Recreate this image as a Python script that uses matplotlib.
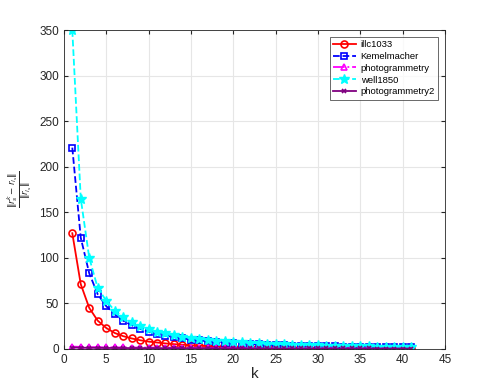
import numpy as np
import matplotlib.pyplot as plt

plt.rcParams['font.family'] = ['Liberation Sans', 'DejaVu Sans']

k = np.arange(1, 42)
illc1033 = [127, 71, 45, 31, 23, 17.5, 14, 11.5, 9.5, 8, 7, 6, 5.2, 4.6, 4, 3.6, 3.2, 2.9, 2.6, 2.4,
            2.2, 2, 1.8, 1.7, 1.6, 1.5, 1.4, 1.3, 1.2, 1.1, 1.05, 1, 0.95, 0.9, 0.85, 0.8, 0.75, 0.7,
            0.68, 0.65, 0.6]
kemelmacher = [221, 122, 83, 60, 47, 38, 31, 26, 22, 19, 16.5, 14.5, 13, 11.5, 10.3, 9.3, 8.4, 7.6,
               7, 6.4, 5.9, 5.4, 5, 4.6, 4.3, 4, 3.7, 3.5, 3.3, 3.1, 2.9, 2.7, 2.6, 2.4, 2.3, 2.2,
               2.1, 2, 1.9, 1.8, 1.7]
photogrammetry = [2.5, 2.2, 2.0, 1.9, 1.8, 1.7, 1.6, 1.5, 1.5, 1.4, 1.4, 1.3, 1.3, 1.2, 1.2, 1.2,
                  1.1, 1.1, 1.1, 1.0, 1.0, 1.0, 1.0, 0.9, 0.9, 0.9, 0.9, 0.9, 0.8, 0.8, 0.8, 0.8,
                  0.8, 0.8, 0.7, 0.7, 0.7, 0.7, 0.7, 0.7, 0.7]
well1850 = [350, 165, 100, 67, 53, 42, 35, 29, 25, 22, 19, 17, 15, 13.5, 12, 11, 10, 9.2, 8.5, 7.8,
            7.2, 6.7, 6.2, 5.8, 5.4, 5, 4.7, 4.4, 4.1, 3.9, 3.7, 3.5, 3.3, 3.1, 2.9, 2.8, 2.6, 2.5,
            2.4, 2.3, 2.2]
photogrammetry2 = [1.5, 1.3, 1.2, 1.1, 1.0, 1.0, 0.9, 0.9, 0.9, 0.8, 0.8, 0.8, 0.8, 0.7, 0.7, 0.7,
                   0.7, 0.7, 0.6, 0.6, 0.6, 0.6, 0.6, 0.6, 0.6, 0.5, 0.5, 0.5, 0.5, 0.5, 0.5, 0.5,
                   0.5, 0.5, 0.5, 0.5, 0.4, 0.4, 0.4, 0.4, 0.4]

fig = plt.figure(figsize=(4.91, 3.92), dpi=100)
ax = fig.add_axes([0.130, 0.110, 0.776, 0.813])

ax.plot(k, illc1033, '-o', color='red', lw=1.3, ms=5, mfc='none', mew=1.2, label='illc1033')
ax.plot(k, kemelmacher, '--s', color='blue', lw=1.3, ms=4, mfc='none', mew=1.2, label='Kemelmacher')
ax.plot(k, photogrammetry, '-.^', color='magenta', lw=1.3, ms=5, mfc='none', mew=1.2, label='photogrammetry')
ax.plot(k, well1850, '--*', color='cyan', lw=1.3, ms=7, mew=1.0, label='well1850')
ax.plot(k, photogrammetry2, '-x', color=(0.5, 0, 0.5), lw=1.3, ms=3.5, mew=1.2, label='photogrammetry2')

ax.set_xlim(0, 45)
ax.set_ylim(0, 350)
ax.set_xticks(np.arange(0, 46, 5))
ax.set_yticks(np.arange(0, 351, 50))
ax.grid(True, color='#e6e6e6', lw=0.8)
ax.set_axisbelow(True)
ax.tick_params(direction='in', top=True, right=True, labelsize=8.5, colors='#262626', length=3)
for s in ax.spines.values():
    s.set_color('#262626')
    s.set_linewidth(0.6)

ax.set_xlabel('k', fontsize=11, color='#262626', labelpad=1)
ax.set_ylabel(r'$\frac{\|r_s^k - r_{l_s}\|}{\|r_{l_s}\|}$', fontsize=9, color='#262626', labelpad=4)

leg = ax.legend(loc='upper right', fontsize=6.8, fancybox=False, edgecolor='#262626',
                borderpad=0.35, labelspacing=0.3, handlelength=2.4, handletextpad=0.5,
                borderaxespad=0.7)
leg.get_frame().set_linewidth(0.6)

fig.savefig('out.png', dpi=100)
